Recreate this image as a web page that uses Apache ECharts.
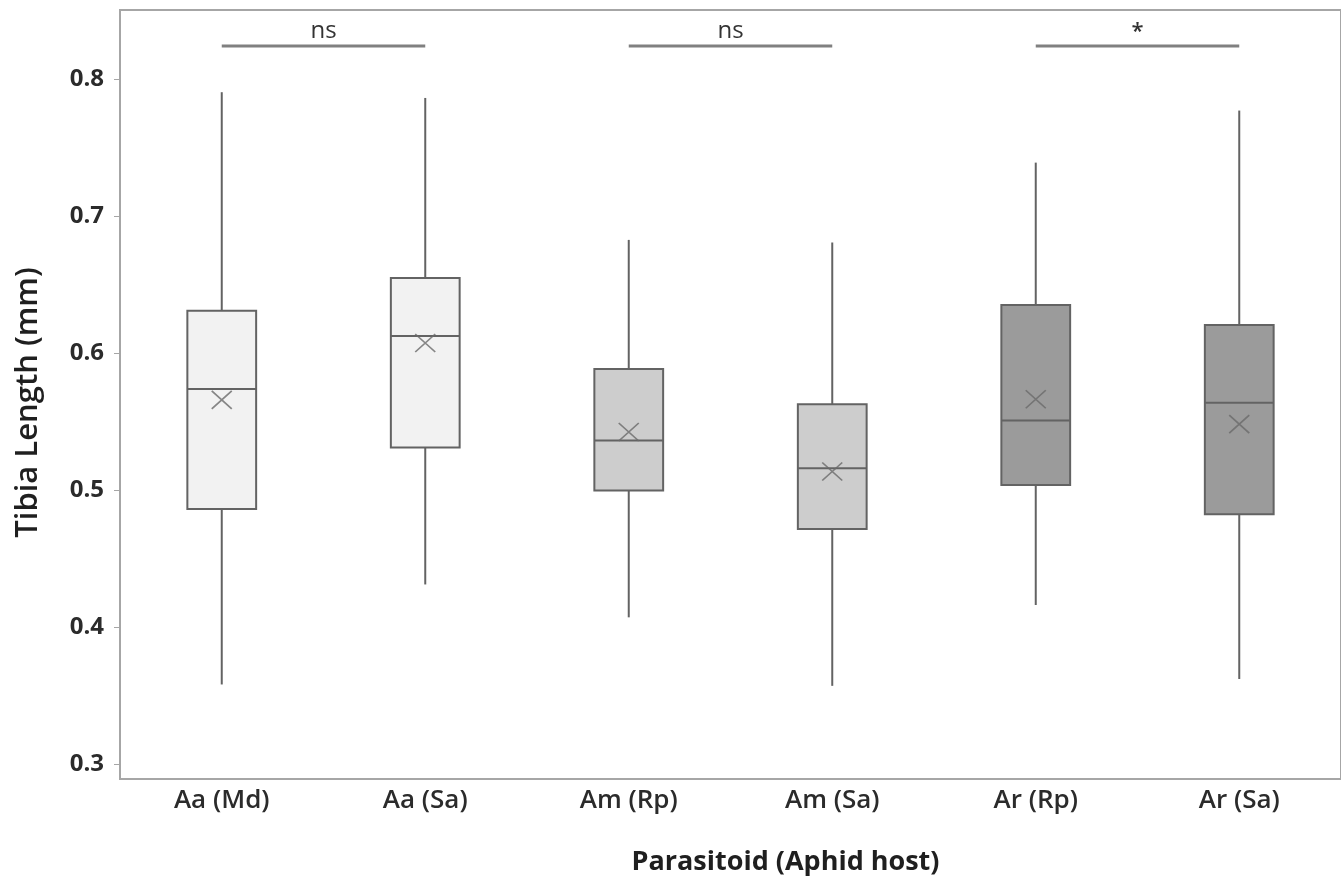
<!DOCTYPE html>
<html><head><meta charset="utf-8">
<script src="https://cdn.jsdelivr.net/npm/echarts@6/dist/echarts.min.js"></script>
<style>html,body{margin:0;padding:0;background:#fff}#c{width:1341px;height:883px}</style>
</head><body><div id="c"></div>
<script>
// ---- data ----
const categories = ['Aa (Md)', 'Aa (Sa)', 'Am (Rp)', 'Am (Sa)', 'Ar (Rp)', 'Ar (Sa)'];
const lowWhisker = [0.358, 0.431, 0.407, 0.357, 0.416, 0.362];
const q1Values   = [0.486, 0.531, 0.4995, 0.4715, 0.5036, 0.4823];
const medians    = [0.5737, 0.6124, 0.536, 0.5158, 0.5506, 0.5637];
const q3Values   = [0.6307, 0.6547, 0.5883, 0.5626, 0.635, 0.6204];
const highWhisker= [0.7903, 0.7861, 0.6825, 0.6806, 0.7389, 0.7769];
const means      = [0.5657, 0.6073, 0.5423, 0.5134, 0.5662, 0.548];
const yTickLabels = [0.3, 0.4, 0.5, 0.6, 0.7, 0.8];
const bracketFrom = [0, 2, 4];
const bracketTo   = [1, 3, 5];
const bracketLevel = [0.8241, 0.8241, 0.8241];
const bracketText = ['ns', 'ns', '*'];

// ---- styles ----
const boxFills = ['#f2f2f2', '#f2f2f2', '#cdcdcd', '#cdcdcd', '#9b9b9b', '#9b9b9b'];
const FONT = '"Open Sans", "Noto Sans", sans-serif';

const boxData = categories.map((c, i) => [i, lowWhisker[i], q1Values[i], medians[i], q3Values[i], highWhisker[i]]);
const meanData = categories.map((c, i) => [i, means[i]]);
const bracketData = bracketFrom.map((f, i) => [f, bracketTo[i], bracketLevel[i], i]);

const chart = echarts.init(document.getElementById('c'));
chart.setOption({
  animation: false,
  backgroundColor: '#fff',
  grid: { left: 120, top: 10, width: 1224, height: 769, show: true, borderColor: '#a6a6a6', borderWidth: 2, backgroundColor: '#fff' },
  xAxis: {
    type: 'category', data: categories, boundaryGap: true,
    name: 'Parasitoid (Aphid host)', nameLocation: 'middle', nameGap: 70,
    nameTextStyle: { fontFamily: FONT, fontSize: 27, fontWeight: 'bold', color: '#1f1f1f', padding: [0, 0, 0, 110] },
    axisLine: { lineStyle: { color: '#a6a6a6', width: 2 } },
    axisTick: { alignWithLabel: true, length: 5, lineStyle: { color: '#a6a6a6' } },
    axisLabel: { fontFamily: FONT, fontSize: 26, fontWeight: 600, color: '#2b2b2b', margin: 9 },
    splitLine: { show: false }
  },
  yAxis: {
    type: 'value', min: 0.289, max: 0.8503,
    name: 'Tibia Length (mm)', nameLocation: 'middle', nameGap: 76, nameRotate: 90,
    nameTextStyle: { fontFamily: FONT, fontSize: 31, fontWeight: 600, color: '#1f1f1f', padding: [0, 16, 0, 0] },
    axisLine: { show: true, lineStyle: { color: '#a6a6a6', width: 2 } },
    axisTick: { show: true, length: 6, customValues: yTickLabels, lineStyle: { color: '#a6a6a6' } },
    axisLabel: { fontFamily: FONT, fontSize: 24, fontWeight: 'bold', color: '#2b2b2b', margin: 16, customValues: yTickLabels, formatter: v => v.toFixed(1) },
    splitLine: { show: false }
  },
  series: [
    {
      type: 'custom', data: boxData, z: 3,
      encode: { x: 0, y: [1, 2, 3, 4, 5] },
      renderItem: function (params, api) {
        const i = api.value(0);
        const w = api.size([1, 0])[0] * 0.338;
        const pLow = api.coord([i, api.value(1)]);
        const pQ1 = api.coord([i, api.value(2)]);
        const pMed = api.coord([i, api.value(3)]);
        const pQ3 = api.coord([i, api.value(4)]);
        const pHigh = api.coord([i, api.value(5)]);
        const x = pQ1[0];
        const stroke = { stroke: '#636363', lineWidth: 2 };
        return {
          type: 'group',
          children: [
            { type: 'line', shape: { x1: x, y1: pLow[1], x2: x, y2: pQ1[1] }, style: stroke },
            { type: 'line', shape: { x1: x, y1: pQ3[1], x2: x, y2: pHigh[1] }, style: stroke },
            { type: 'rect', shape: { x: x - w / 2, y: pQ3[1], width: w, height: pQ1[1] - pQ3[1] },
              style: { fill: boxFills[params.dataIndex], stroke: '#636363', lineWidth: 2 } },
            { type: 'line', shape: { x1: x - w / 2, y1: pMed[1], x2: x + w / 2, y2: pMed[1] }, style: stroke }
          ]
        };
      }
    },
    {
      type: 'scatter', data: meanData, z: 5,
      symbol: 'path://M0,0L10,10M10,0L0,10', symbolSize: [20, 18],
      itemStyle: { color: 'rgba(0,0,0,0)', borderColor: '#6a6a6a', borderWidth: 1.6 }
    },
    {
      type: 'custom', data: bracketData, z: 4,
      encode: { x: [0, 1], y: 2 },
      renderItem: function (params, api) {
        const a = api.coord([api.value(0), api.value(2)]);
        const b = api.coord([api.value(1), api.value(2)]);
        const t = bracketText[api.value(3)];
        return {
          type: 'group',
          children: [
            { type: 'line', shape: { x1: a[0], y1: a[1], x2: b[0], y2: b[1] }, style: { stroke: '#808080', lineWidth: 3 } },
            { type: 'text', style: { text: t, x: (a[0] + b[0]) / 2, y: a[1] - 3, align: 'center', verticalAlign: 'bottom',
              font: (t === '*' ? '600 22px ' : '24px ') + FONT, fill: '#333' } }
          ]
        };
      }
    }
  ]
});
</script></body></html>
